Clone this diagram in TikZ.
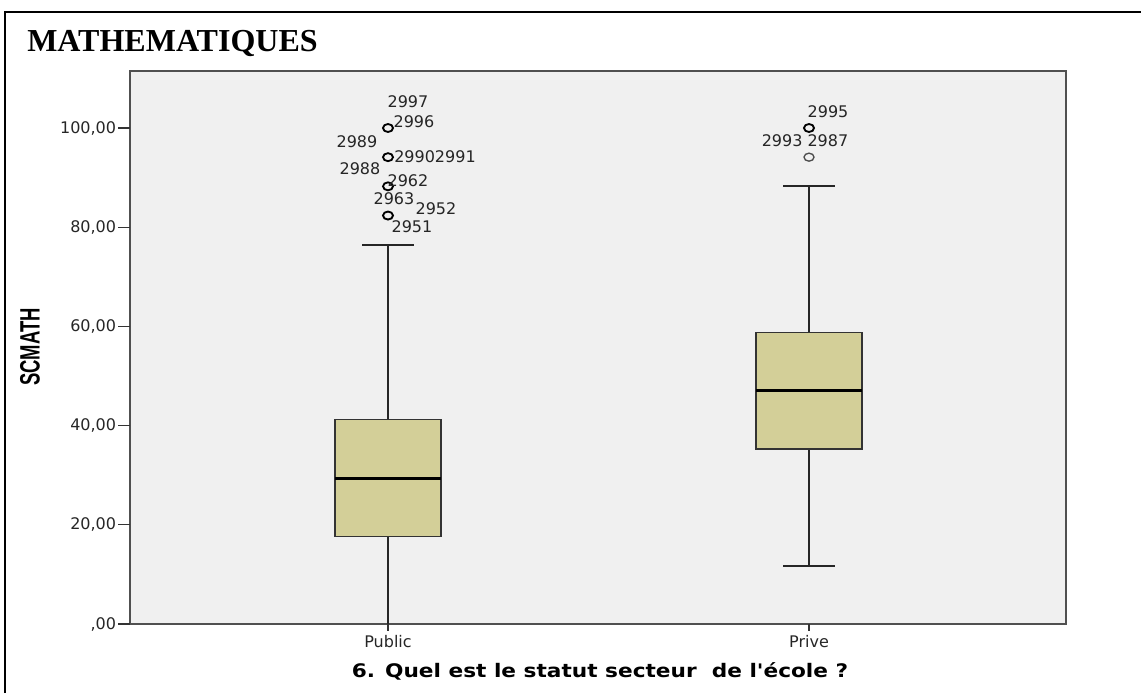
\documentclass[tikz,border=0pt]{standalone}
\usepackage{fontspec}
\newfontfamily\titlefont{Liberation Serif}
\newfontfamily\chartfont{DejaVu Sans}
\newfontfamily\narrowfont{Liberation Sans}
\usetikzlibrary{shapes.geometric, calc, positioning}

\definecolor{plotbg}{HTML}{F0F0F0}
\definecolor{boxfill}{HTML}{D3CF98}
\definecolor{framegray}{HTML}{505050}

\tikzstyle{ticklabel}=[font=\chartfont\fontsize{12}{14}\selectfont, inner sep=0pt, text=black!85]
\tikzstyle{caseid}=[font=\chartfont\fontsize{12}{14}\selectfont, inner sep=0pt, text=black!85]
\tikzstyle{outlier}=[draw, ellipse, minimum width=7.5pt, minimum height=6pt, inner sep=0pt, line width=1.4pt]
\tikzstyle{outlierthin}=[outlier, line width=1pt, draw=black!70]
\tikzstyle{whisker}=[line width=1.5pt, draw=black!85]
\tikzstyle{quartbox}=[draw=black!80, fill=boxfill, line width=0.9pt]
\tikzstyle{median}=[line width=2.3pt]
\tikzstyle{axistick}=[line width=0.9pt, draw=black!80]

\begin{document}
\begin{tikzpicture}[x=0.75pt, y=-0.75pt]
    \useasboundingbox (0,0) rectangle (1141,693);
    % outer frame and title
    \draw[line width=0.9pt] (5,693) -- (5,12) -- (1141,12);
    \node[anchor=west, inner sep=0pt, font=\titlefont\bfseries\fontsize{24}{28}\selectfont] (title) at (27,43) {MATHEMATIQUES};

    % plot area
    \draw[draw=framegray, line width=1.2pt, fill=plotbg] (130,71) rectangle (1066,624);

    % data values (y in score units)
    \begin{scope}[yshift=-468pt, y=3.72pt]
        \foreach \v/\txt in {0/{,00}, 20/{20,00}, 40/{40,00}, 60/{60,00}, 80/{80,00}, 100/{100,00}} {
            \coordinate (ytick\v) at (130,\v);
            \draw[axistick] (118,\v) node[ticklabel, anchor=east, xshift=-1pt] (ylab\v) {\txt} -- (ytick\v);
        }

        \coordinate (pubmin) at (388,0);
        \coordinate (pubq1) at (388,17.65);
        \coordinate (pubmed) at (388,29.41);
        \coordinate (pubq3) at (388,41.18);
        \coordinate (pubmax) at (388,76.47);
        \node[outlier] (pub2951) at (388,82.35) {};
        \node[outlier] (pub2962) at (388,88.24) {};
        \node[outlier] (pub2990) at (388,94.12) {};
        \node[outlier] (pub2996) at (388,100) {};

        \coordinate (primin) at (809,11.76);
        \coordinate (priq1) at (809,35.29);
        \coordinate (primed) at (809,47.06);
        \coordinate (priq3) at (809,58.82);
        \coordinate (primax) at (809,88.24);
        \node[outlierthin] (pri2987) at (809,94.12) {};
        \node[outlier] (pri2995) at (809,100) {};
    \end{scope}

    % Public
    \draw[axistick] (pubmin) -- ($(pubmin)+(0,7)$);
    \draw[whisker] (pubq3) -- (pubmax);
    \draw[whisker] (pubq1) -- (pubmin);
    \draw[whisker] ($(pubmax)+(-26,0)$) -- ($(pubmax)+(26,0)$);
    \draw[quartbox] ($(pubq1)+(-53,0)$) rectangle ($(pubq3)+(53,0)$);
    \draw[median] ($(pubmed)+(-53,0)$) -- ($(pubmed)+(53,0)$);

    % Prive
    \draw[axistick] (809,624) -- (809,631);
    \draw[whisker] (priq3) -- (primax);
    \draw[whisker] (priq1) -- (primin);
    \draw[whisker] ($(primax)+(-26,0)$) -- ($(primax)+(26,0)$);
    \draw[whisker] ($(primin)+(-26,0)$) -- ($(primin)+(26,0)$);
    \draw[quartbox] ($(priq1)+(-53,0)$) rectangle ($(priq3)+(53,0)$);
    \draw[median] ($(primed)+(-53,0)$) -- ($(primed)+(53,0)$);

    % case numbers
    \node[caseid] (l2997) at (408,102) {2997};
    \node[caseid] (l2996) at (414,122) {2996};
    \node[caseid] (l2989) at (357,142) {2989};
    \node[caseid] (l2990) at (435,157) {29902991};
    \node[caseid] (l2988) at (360,169) {2988};
    \node[caseid] (l2962) at (408,181) {2962};
    \node[caseid] (l2963) at (394,199) {2963};
    \node[caseid] (l2952) at (436,209) {2952};
    \node[caseid] (l2951) at (412,227) {2951};
    \node[caseid] (l2995) at (828,112) {2995};
    \node[caseid] (l2993) at (805,141) {2993 2987};

    % axis titles
    \node[ticklabel] (public) at (388,642) {Public};
    \node[ticklabel] (prive) at (809,642) {Prive};
    \node[rotate=90, inner sep=0pt, font=\narrowfont\bfseries\fontsize{21}{24}\selectfont] (ylabel) at (30,347) {\scalebox{0.66}[1]{SCMATH}};
    \node[inner sep=0pt, font=\chartfont\bfseries\fontsize{14}{17}\selectfont] (xlabel) at (600,671) {\scalebox{1.16}[1]{6. Quel est le statut secteur~ de l\textquotesingle{}école ?}};
\end{tikzpicture}
\end{document}
